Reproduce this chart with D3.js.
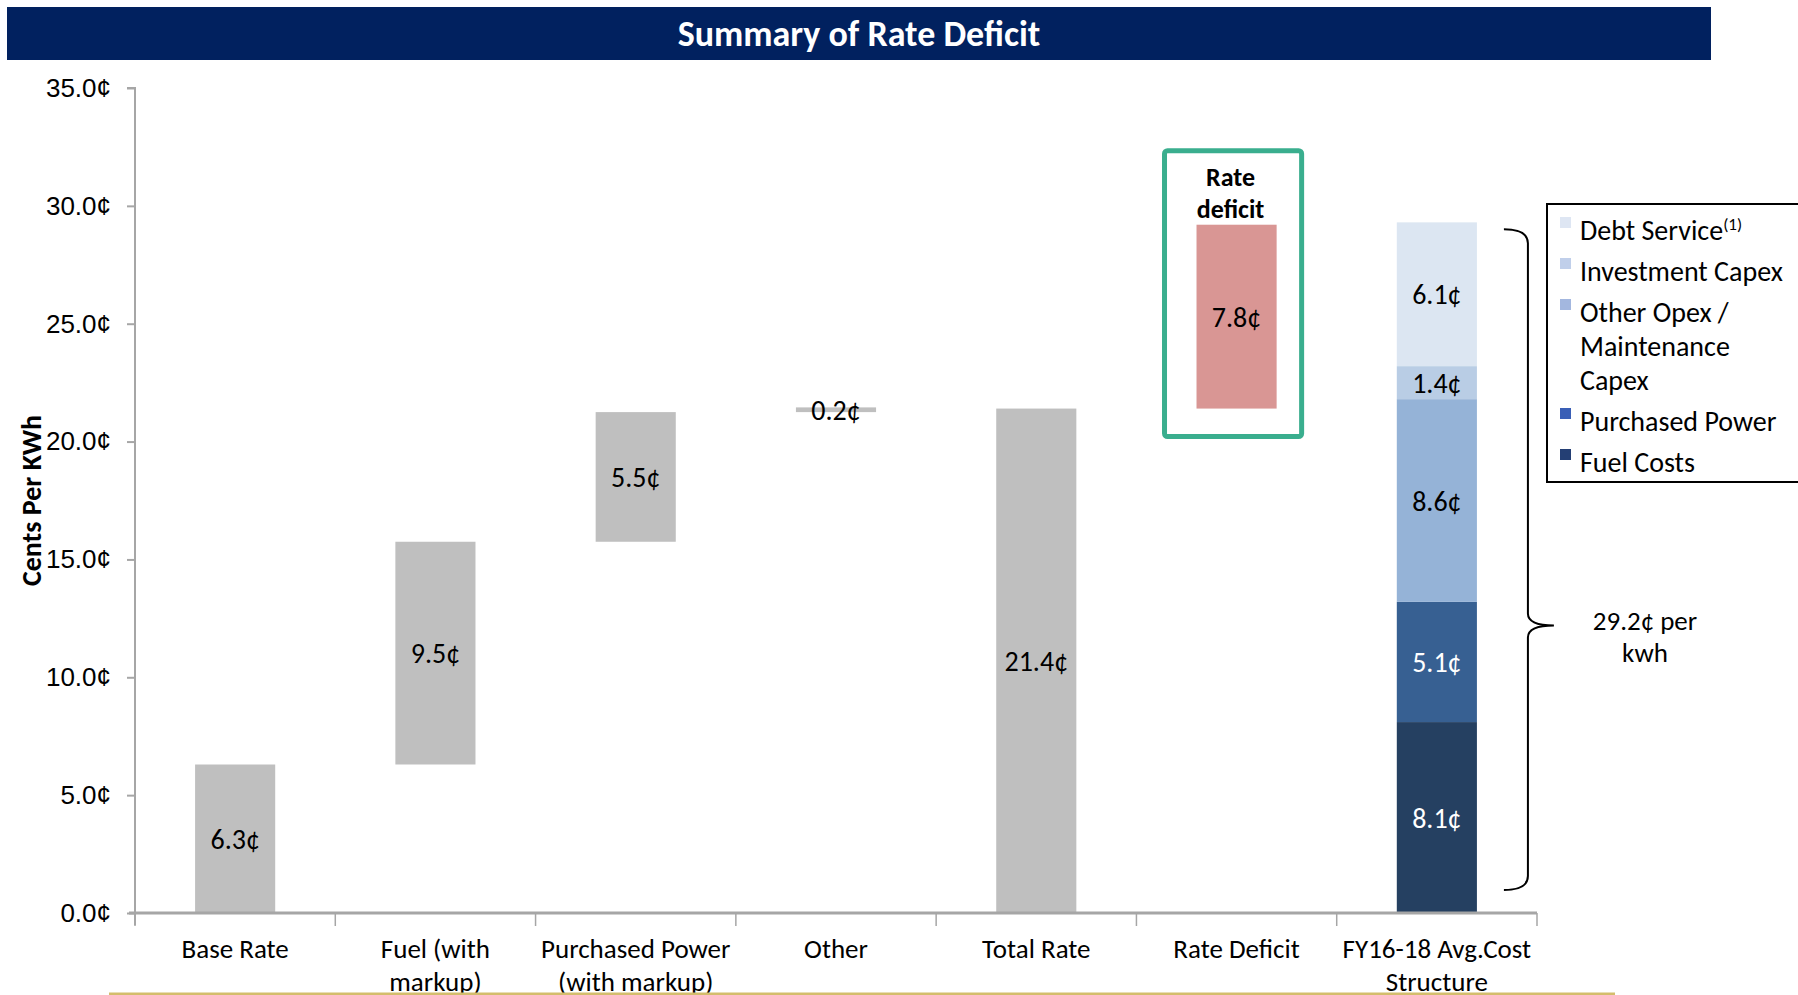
<!DOCTYPE html>
<html>
<head>
<meta charset="utf-8">
<script src="https://cdn.jsdelivr.net/npm/d3@7"></script>
<style>
    body { margin: 0; background: #fff; }
    svg { font-family: Carlito, Lato, sans-serif; }
    .tickLabel { font-size: 26px; fill: #000; }
    .catLabel { font-size: 27px; fill: #000; }
    .barLabel { font-size: 28px; fill: #000; }
    .legendText { font-size: 28px; fill: #000; }
</style>
</head>
<body>
<div id="chart1"></div>
<script>
'use strict';

// Data
const categories = ['Base Rate', 'Fuel (with\nmarkup)', 'Purchased Power\n(with markup)', 'Other',
    'Total Rate', 'Rate Deficit', 'FY16-18 Avg.Cost\nStructure'];
const stepLow = [0, 6.3, 15.75, 21.25, 0, 21.4];
const stepHigh = [6.3, 15.75, 21.25, 21.45, 21.4, 29.2];
const stepLabels = ['6.3¢', '9.5¢', '5.5¢', '0.2¢', '21.4¢', '7.8¢'];
const stackNames = ['Fuel Costs', 'Purchased Power', 'Other Opex / Maintenance Capex', 'Investment Capex', 'Debt Service'];
const stackValues = [8.1, 5.1, 8.6, 1.4, 6.1];
const stackLabels = ['8.1¢', '5.1¢', '8.6¢', '1.4¢', '6.1¢'];
const yTicks = [0, 5, 10, 15, 20, 25, 30, 35];
const totalNote = ['29.2¢ per', 'kwh'];

/* `````````````````````````````````\```````````````````````\
    Class: RateChart                |                       |
 ``````````````````````````````````/``````````````````````*/
class RateChart {

    constructor(_parent) {
        this.parent = _parent;
        this.initVis();
    }

    initVis() {
        const vis = this;

        vis.w = 1798;
        vis.h = 995;

        vis.svg = d3.select(`#${vis.parent}`)
            .append('svg')
            .attr('width', vis.w)
            .attr('height', vis.h);

        // Title banner
        vis.svg.append('rect')
            .attr('x', 7).attr('y', 7)
            .attr('width', 1704).attr('height', 53)
            .attr('fill', '#01215f');
        vis.svg.append('text')
            .attr('x', 859).attr('y', 46)
            .attr('text-anchor', 'middle')
            .attr('fill', '#fff')
            .attr('font-weight', 'bold')
            .attr('font-size', 36)
            .text('Summary of Rate Deficit');

        // Scales
        vis.x = d3.scaleBand().domain(categories).range([135, 1537]);
        vis.y = d3.scaleLinear().domain([0, 35]).range([913, 88]);
        vis.barW = vis.x.bandwidth() * 0.4;

        vis.updateVis();
    }

    updateVis() {
        const vis = this;
        const x = vis.x, y = vis.y;
        const bx = c => x(c) + (x.bandwidth() - vis.barW) / 2;

        // Y axis
        const yAxis = vis.svg.append('g')
            .attr('transform', 'translate(135,0)')
            .call(d3.axisLeft(y).tickValues(yTicks).tickFormat(d => d.toFixed(1) + '¢')
                .tickSize(8).tickPadding(16));
        yAxis.select('.domain').attr('stroke', '#a6a6a6').attr('stroke-width', 2)
            .attr('d', `M-8,${y(35)}H0V${y(0) + 12}`);
        yAxis.selectAll('.tick line').attr('stroke', '#a6a6a6').attr('stroke-width', 2);
        yAxis.selectAll('.tick text').attr('class', 'tickLabel').attr('font-size', null).attr('font-family', null);

        vis.svg.append('text')
            .attr('transform', `translate(41,${y(17.5)}) rotate(-90)`)
            .attr('text-anchor', 'middle')
            .attr('font-weight', 'bold')
            .attr('font-size', 28)
            .text('Cents Per KWh');

        // Waterfall bars
        const steps = categories.slice(0, 6);
        vis.svg.append('g').selectAll('rect')
            .data(steps)
            .join('rect')
            .attr('x', d => bx(d))
            .attr('width', vis.barW)
            .attr('y', (d, i) => y(stepHigh[i]))
            .attr('height', (d, i) => y(stepLow[i]) - y(stepHigh[i]))
            .attr('fill', (d, i) => i === 5 ? '#d99694' : '#bfbfbf');

        vis.svg.append('g').selectAll('text')
            .data(steps)
            .join('text')
            .attr('class', 'barLabel')
            .attr('x', d => x(d) + x.bandwidth() / 2)
            .attr('y', (d, i) => y((stepLow[i] + stepHigh[i]) / 2) + 10)
            .attr('text-anchor', 'middle')
            .text((d, i) => stepLabels[i]);

        // Stacked cost structure
        const cat = categories[6];
        let acc = 0;
        const stackData = stackValues.map((v, i) => {
            const seg = {name: stackNames[i], y0: acc, y1: acc + v, label: stackLabels[i]};
            acc += v;
            return seg;
        });
        const stackColors = d3.scaleOrdinal().domain(stackNames)
            .range(['#254061', '#376092', '#95b3d7', '#b9cde5', '#dce6f2']);
        vis.svg.append('g').selectAll('rect')
            .data(stackData)
            .join('rect')
            .attr('x', bx(cat))
            .attr('width', vis.barW)
            .attr('y', d => y(d.y1))
            .attr('height', d => y(d.y0) - y(d.y1))
            .attr('fill', d => stackColors(d.name));
        vis.svg.append('g').selectAll('text')
            .data(stackData)
            .join('text')
            .attr('class', 'barLabel')
            .attr('x', x(cat) + x.bandwidth() / 2)
            .attr('y', d => y((d.y0 + d.y1) / 2) + 10)
            .attr('text-anchor', 'middle')
            .style('fill', (d, i) => i < 2 ? '#fff' : '#000')
            .text(d => d.label);

        // X axis
        vis.svg.append('line')
            .attr('x1', 129).attr('x2', 1537)
            .attr('y1', y(0)).attr('y2', y(0))
            .attr('stroke', '#a6a6a6').attr('stroke-width', 3);
        vis.svg.append('g').selectAll('line')
            .data(categories.concat(['end']))
            .join('line')
            .attr('x1', d => d === 'end' ? 1537 : x(d))
            .attr('x2', d => d === 'end' ? 1537 : x(d))
            .attr('y1', y(0)).attr('y2', y(0) + 13)
            .attr('stroke', '#a6a6a6').attr('stroke-width', 1.5);
        vis.svg.append('g').selectAll('text')
            .data(categories)
            .join('text')
            .attr('class', 'catLabel')
            .attr('text-anchor', 'middle')
            .attr('x', d => x(d) + x.bandwidth() / 2)
            .attr('y', 958)
            .each(function (d) {
                const t = d3.select(this);
                d.split('\n').forEach((line, i) => {
                    t.append('tspan')
                        .attr('x', x(d) + x.bandwidth() / 2)
                        .attr('dy', i === 0 ? 0 : 33)
                        .text(line);
                });
            });

        // Gold rule at bottom
        vis.svg.append('line')
            .attr('x1', 109).attr('x2', 1615)
            .attr('y1', 994).attr('y2', 994)
            .attr('stroke', '#d4bd6c').attr('stroke-width', 3);

        // Rate deficit highlight box
        const rd = categories[5];
        vis.svg.append('rect')
            .attr('x', bx(rd) - 32)
            .attr('y', y(stepHigh[5]) - 74)
            .attr('width', vis.barW + 57)
            .attr('height', y(stepLow[5]) - y(stepHigh[5]) + 102)
            .attr('rx', 3)
            .attr('fill', 'none')
            .attr('stroke', '#3aae8e')
            .attr('stroke-width', 5);
        vis.svg.append('text')
            .attr('text-anchor', 'middle')
            .attr('font-weight', 'bold')
            .attr('font-size', 26)
            .selectAll('tspan')
            .data(['Rate', 'deficit'])
            .join('tspan')
            .attr('x', bx(rd) + vis.barW / 2 - 6)
            .attr('y', (d, i) => 186 + i * 32)
            .text(d => d);

        // Brace
        const bL = bx(cat) + vis.barW + 27;
        const bV = bL + 24;
        const bT = y(acc) + 7;
        const bB = y(0) - 23;
        const bM = y(12.2);
        vis.svg.append('path')
            .attr('d', `M${bL},${bT} Q${bV},${bT} ${bV},${bT + 14} L${bV},${bM - 12} Q${bV},${bM} ${bV + 26},${bM}`
                + ` Q${bV},${bM} ${bV},${bM + 12} L${bV},${bB - 14} Q${bV},${bB} ${bL},${bB}`)
            .attr('fill', 'none')
            .attr('stroke', '#000')
            .attr('stroke-width', 2);
        vis.svg.append('text')
            .attr('text-anchor', 'middle')
            .attr('font-size', 27)
            .selectAll('tspan')
            .data(totalNote)
            .join('tspan')
            .attr('x', 1645)
            .attr('y', (d, i) => bM + 5 + i * 32)
            .text(d => d);

        // Legend
        const legendColors = d3.scaleOrdinal().domain(stackNames)
            .range(['#243f74', '#3a5fb6', '#a3b7df', '#c0cfea', '#dee6f3']);
        const legendItems = stackNames.slice().reverse();
        const legendLines = {
            'Debt Service': ['Debt Service'],
            'Investment Capex': ['Investment Capex'],
            'Other Opex / Maintenance Capex': ['Other Opex /', 'Maintenance', 'Capex'],
            'Purchased Power': ['Purchased Power'],
            'Fuel Costs': ['Fuel Costs']
        };
        const legend = vis.svg.append('g');
        legend.append('rect')
            .attr('x', 1547).attr('y', 204)
            .attr('width', 270).attr('height', 278)
            .attr('fill', '#fff')
            .attr('stroke', '#000')
            .attr('stroke-width', 2);
        let ly = 240;
        legendItems.forEach(name => {
            legend.append('rect')
                .attr('x', 1560).attr('y', ly - 23)
                .attr('width', 11).attr('height', 11)
                .attr('fill', legendColors(name));
            const t = legend.append('text').attr('class', 'legendText');
            legendLines[name].forEach((line, i) => {
                t.append('tspan')
                    .attr('x', 1580)
                    .attr('y', ly + i * 34)
                    .text(line);
            });
            if (name === 'Debt Service') {
                t.append('tspan')
                    .attr('dy', -10)
                    .attr('font-size', 17)
                    .text('(1)');
            }
            ly += (legendLines[name].length - 1) * 34 + 41;
        });
    }
}

new RateChart('chart1');
</script>
</body>
</html>
